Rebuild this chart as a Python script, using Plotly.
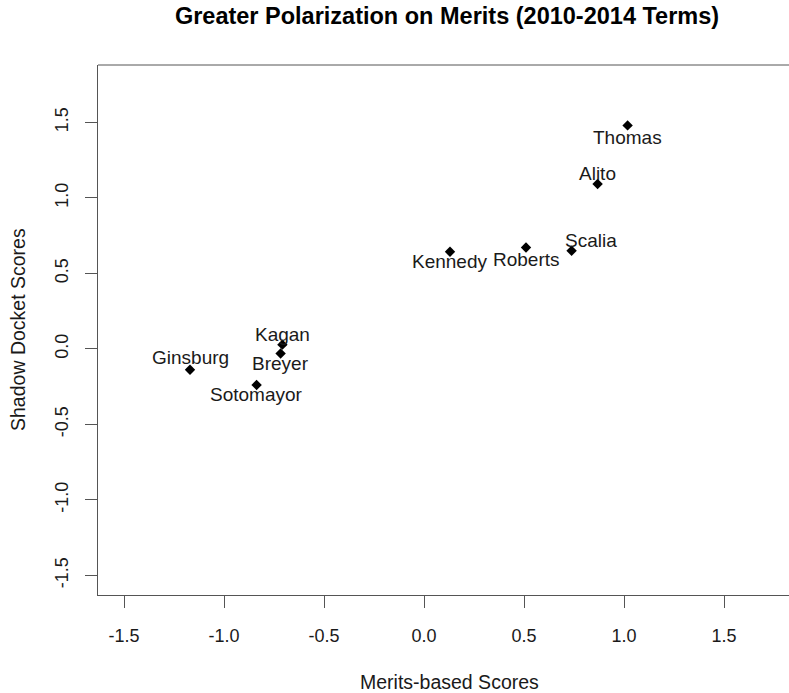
import plotly.graph_objects as go

justices = ["Thomas", "Alito", "Scalia", "Kennedy", "Roberts", "Kagan", "Breyer", "Ginsburg", "Sotomayor"]
merits = [1.018, 0.868, 0.738, 0.13, 0.51, -0.708, -0.717, -1.17, -0.837]
shadow = [1.48, 1.092, 0.65, 0.643, 0.671, 0.028, -0.031, -0.138, -0.239]
tick_vals = [-1.5, -1.0, -0.5, 0.0, 0.5, 1.0, 1.5]
tick_text = ["-1.5", "-1.0", "-0.5", "0.0", "0.5", "1.0", "1.5"]

# label offsets (pixels) relative to each point
label_dx = [0, 0, 19, 0, 0, 0, 0, 0, 0]
label_dy = [-12, 10, 10, -10, -12, 10, -10, 12, -10]

W, H = 789, 693
ML, MR, MT, MB = 98, 0, 65, 98
FONT = "Liberation Sans, Arial, Helvetica, sans-serif"
LINE = "#555555"

fig = go.Figure()
fig.add_trace(go.Scatter(
    x=merits, y=shadow, mode="markers",
    marker=dict(symbol="diamond", size=8, color="black"),
    hoverinfo="text", text=justices, showlegend=False,
))

for name, xv, yv, dx, dy in zip(justices, merits, shadow, label_dx, label_dy):
    fig.add_annotation(x=xv, y=yv, text=name, showarrow=False,
                       xshift=dx, yshift=dy, xanchor="center", yanchor="middle",
                       font=dict(family=FONT, size=19, color="#1a1a1a"))

axis_common = dict(
    tickmode="array", tickvals=tick_vals, ticktext=tick_text,
    showgrid=False, zeroline=False, showline=True, linewidth=1, linecolor=LINE,
    ticks="outside", ticklen=12, tickcolor=LINE, tickwidth=1,
    tickfont=dict(family=FONT, size=18, color="#1a1a1a"),
)

fig.update_xaxes(range=[-1.63, 1.825], mirror=False, ticklabelstandoff=12, **axis_common)
fig.update_yaxes(range=[-1.63, 1.88], mirror=False, tickangle=-90, ticklabelstandoff=10, **axis_common)

# top border of the plot box (right side is cut off by the image edge)
fig.add_shape(type="line", xref="paper", yref="paper", x0=0, x1=1, y0=1, y1=1,
              line=dict(color=LINE, width=1))

# axis titles
fig.add_annotation(xref="paper", yref="paper", x=(18 - ML) / (W - ML - MR), y=0.5,
                   text="Shadow Docket Scores", textangle=-90, showarrow=False,
                   xanchor="center", yanchor="middle",
                   font=dict(family=FONT, size=19.5, color="#1a1a1a"))
fig.add_annotation(xref="paper", yref="paper", x=(449 - ML) / (W - ML - MR),
                   y=-(682 - (H - MB)) / (H - MT - MB),
                   text="Merits-based Scores", showarrow=False,
                   xanchor="center", yanchor="middle",
                   font=dict(family=FONT, size=19.5, color="#1a1a1a"))

fig.update_layout(
    width=W, height=H,
    margin=dict(l=ML, r=MR, t=MT, b=MB, pad=0),
    paper_bgcolor="white", plot_bgcolor="white",
    title=dict(text="<b>Greater Polarization on Merits (2010-2014 Terms)</b>",
               x=447 / W, xref="container", xanchor="center",
               y=1 - 16 / H, yref="container", yanchor="middle",
               font=dict(family=FONT, size=23.5, color="black")),
)

fig.write_html(
    "out.html",
    config={"displayModeBar": False},
    post_script="document.body.style.margin='0';document.documentElement.style.overflow='hidden';document.body.style.overflow='hidden';",
)
